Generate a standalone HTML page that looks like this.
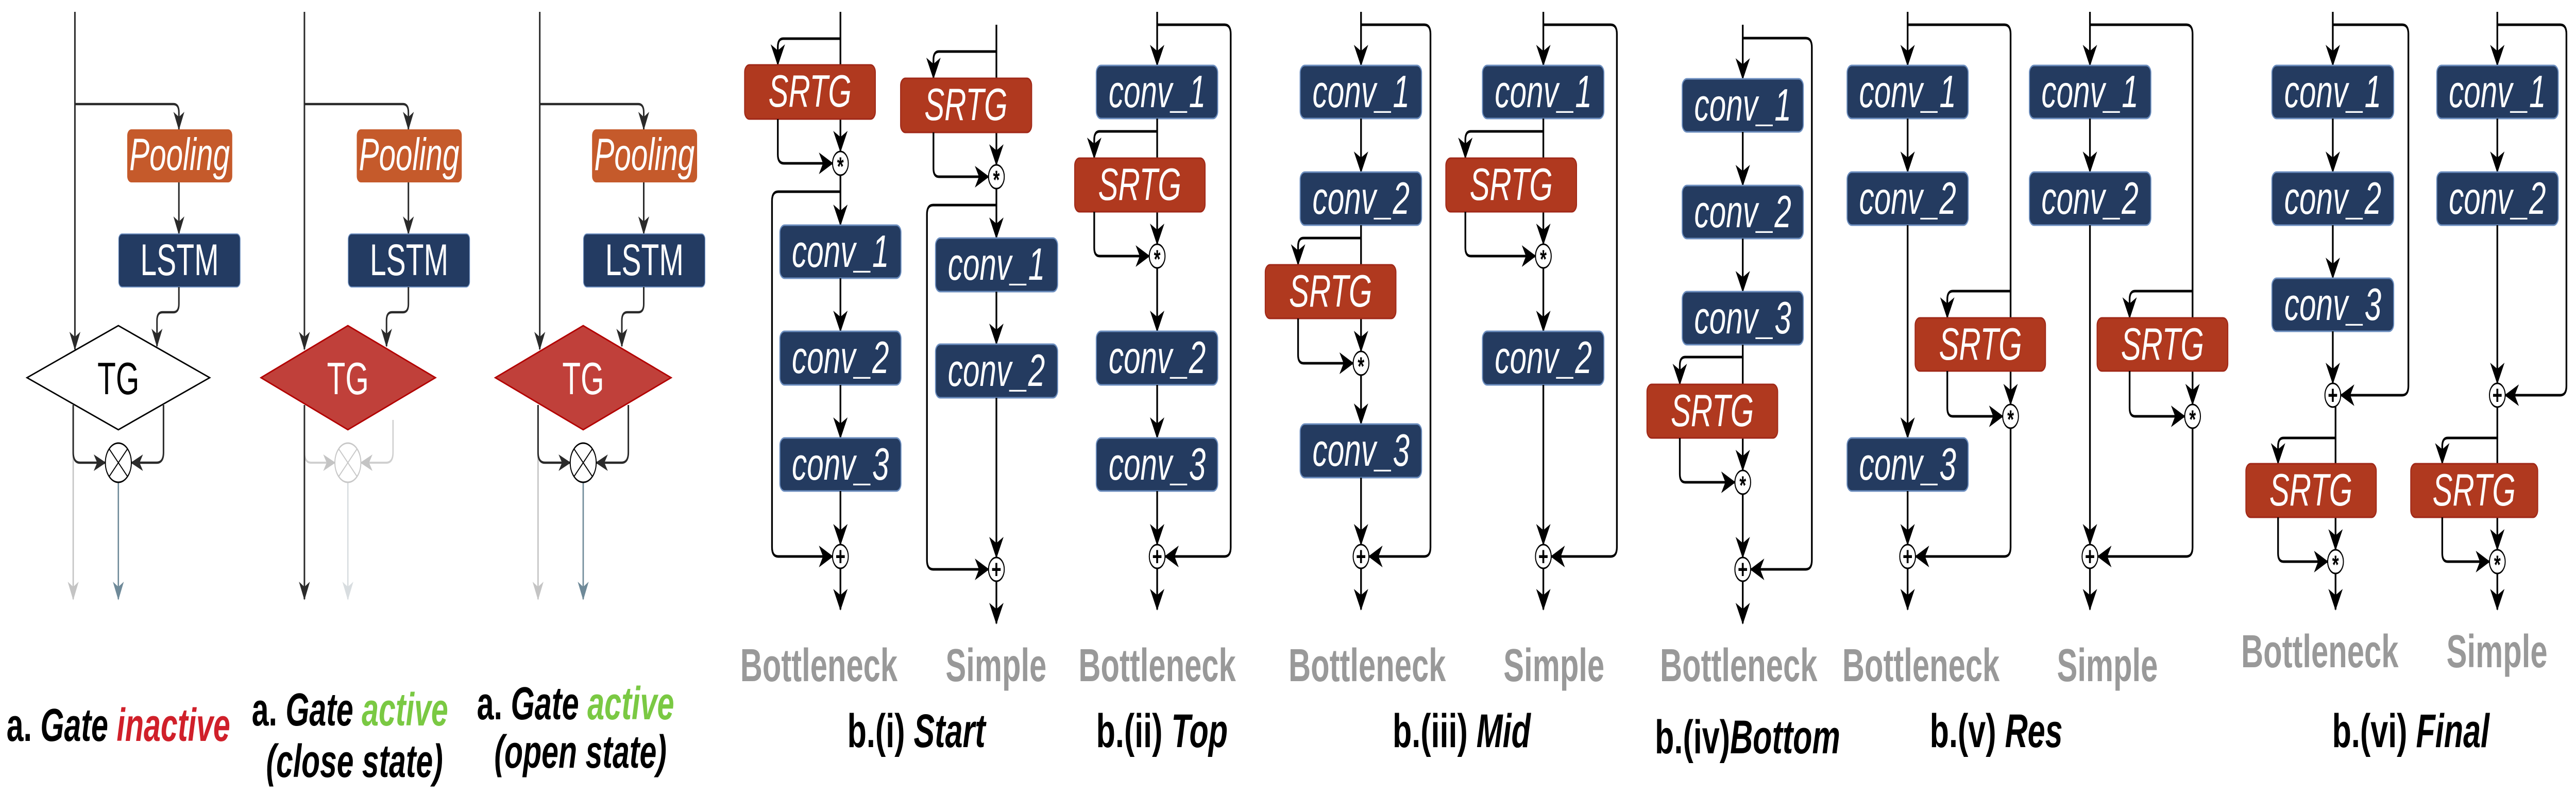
<!DOCTYPE html>
<html><head><meta charset="utf-8"><style>
html,body{margin:0;padding:0;background:#fff;overflow:hidden;width:100%;height:100%;}
svg{display:block;width:100vw;height:100vh;}
.ln{fill:none;stroke:#000;stroke-width:5;marker-end:url(#ar);}
.al{fill:none;stroke:#2a2a2a;stroke-width:4.5;marker-end:url(#ar2);}
.conv{fill:#243B60;stroke:#6C8EBF;stroke-width:3;}
.srtg{fill:#B0391F;stroke:#A02818;stroke-width:3;}
.bt{font-family:"Liberation Sans",sans-serif;font-style:italic;fill:#fff;font-size:88px;text-anchor:middle;}
.sub{font-family:"Liberation Sans",sans-serif;font-weight:bold;fill:#999;font-size:90px;text-anchor:middle;}
.ttl{font-family:"Liberation Sans",sans-serif;font-weight:bold;fill:#000;font-size:92px;text-anchor:middle;}
.al2{font-family:"Liberation Sans",sans-serif;font-weight:bold;font-style:italic;fill:#000;font-size:90px;}
.op{fill:#fff;stroke:#000;stroke-width:3;}
.opt{font-family:"Liberation Sans",sans-serif;font-weight:bold;font-size:50px;text-anchor:middle;fill:#000;}
</style></head><body>
<svg viewBox="0 0 7531 1541" preserveAspectRatio="none" xmlns="http://www.w3.org/2000/svg">
<defs>
<marker id="ar" markerUnits="userSpaceOnUse" markerWidth="46" markerHeight="46" refX="40" refY="22" orient="auto"><path d="M0,1 L42,22 L0,43 L12,22 Z" fill="#000"/></marker>
<marker id="ar2" markerUnits="userSpaceOnUse" markerWidth="42" markerHeight="42" refX="34" refY="18" orient="auto"><path d="M0,2 L36,18 L0,34 L10,18 Z" fill="#2a2a2a"/></marker>
<marker id="arg" markerUnits="userSpaceOnUse" markerWidth="42" markerHeight="42" refX="34" refY="18" orient="auto"><path d="M0,2 L36,18 L0,34 L10,18 Z" fill="#c4c4c4"/></marker>
<marker id="ars" markerUnits="userSpaceOnUse" markerWidth="42" markerHeight="42" refX="34" refY="18" orient="auto"><path d="M0,2 L36,18 L0,34 L10,18 Z" fill="#6f8a99"/></marker>
<marker id="arf" markerUnits="userSpaceOnUse" markerWidth="42" markerHeight="42" refX="34" refY="18" orient="auto"><path d="M0,2 L36,18 L0,34 L10,18 Z" fill="#d8dde0"/></marker>
</defs>
<rect width="7531" height="1541" fill="#fff"/>

<g>
<path class="al" d="M219,23 V678"/>
<path class="al" d="M219,202 H507 Q523,202 523,218 V251"/>
<rect x="372" y="251" width="307" height="103" rx="12" fill="#C55A2B"/>
<text class="bt" x="525" y="330">Pooling</text>
<path class="al" d="M523,354 V454"/>
<rect x="347" y="454" width="355" height="103" rx="10" fill="#233B62" stroke="#6C8EBF" stroke-width="2"/>
<text x="525" y="534" font-family="Liberation Sans, sans-serif" font-size="86" fill="#fff" text-anchor="middle">LSTM</text>
<path class="al" d="M523,557 V590 Q523,606 507,606 H475 Q459,606 459,622 V672"/>
<polygon points="79,733 346,632 613,733 346,834" fill="#fff" stroke="#000" stroke-width="3"/>
<text x="346" y="765" font-family="Liberation Sans, sans-serif" font-size="88" fill="#000" text-anchor="middle">TG</text>
<path d="M214,850 V1163" fill="none" stroke="#c4c4c4" stroke-width="4" marker-end="url(#arg)"/>
<path class="al" d="M214,786 V878 Q214,898 234,898 H308"/>
<path class="al" d="M478,786 V878 Q478,898 458,898 H384"/>
<path d="M346,936 V1163" fill="none" stroke="#6f8a99" stroke-width="4" marker-end="url(#ars)"/>
<circle cx="346" cy="898" r="38" fill="#fff" stroke="#000" stroke-width="3"/>
<path d="M319,871 L373,925 M373,871 L319,925" stroke="#000" stroke-width="2.5"/>
<text class="al2" x="19" y="1438" textLength="654" lengthAdjust="spacingAndGlyphs"><tspan font-style="normal">a.</tspan> Gate <tspan fill="#D0202A">inactive</tspan></text>
</g>

<g>
<path class="al" d="M890,202 H1178 Q1194,202 1194,218 V251"/>
<rect x="1043" y="251" width="307" height="103" rx="12" fill="#C55A2B"/>
<text class="bt" x="1196" y="330">Pooling</text>
<path class="al" d="M1194,354 V454"/>
<rect x="1018" y="454" width="355" height="103" rx="10" fill="#233B62" stroke="#6C8EBF" stroke-width="2"/>
<text x="1196" y="534" font-family="Liberation Sans, sans-serif" font-size="86" fill="#fff" text-anchor="middle">LSTM</text>
<path class="al" d="M1194,557 V590 Q1194,606 1178,606 H1146 Q1130,606 1130,622 V672"/>
<polygon points="763,733 1017,632 1273,733 1017,834" fill="#C0403A" stroke="#B20000" stroke-width="3"/>
<text x="1017" y="765" font-family="Liberation Sans, sans-serif" font-size="88" fill="#fff" text-anchor="middle">TG</text>
<path d="M890,878 Q890,898 910,898 H979" fill="none" stroke="#d0d0d0" stroke-width="4" marker-end="url(#arg)"/>
<path d="M1149,815 V878 Q1149,898 1129,898 H1055" fill="none" stroke="#d0d0d0" stroke-width="4" marker-end="url(#arg)"/>
<path d="M1017,936 V1163" fill="none" stroke="#d8dde0" stroke-width="4" marker-end="url(#arf)"/>
<circle cx="1017" cy="898" r="38" fill="#fff" stroke="#c8c8c8" stroke-width="3"/>
<path d="M990,871 L1044,925 M1044,871 L990,925" stroke="#c8c8c8" stroke-width="2.5"/>
<path class="al" d="M890,23 V678"/>
<path class="al" d="M890,786 V1163"/>
<text class="al2" x="736" y="1408" textLength="574" lengthAdjust="spacingAndGlyphs"><tspan font-style="normal">a.</tspan> Gate <tspan fill="#7AC943">active</tspan></text>
<text class="al2" x="778" y="1508" textLength="517" lengthAdjust="spacingAndGlyphs">(close state)</text>
</g>

<g>
<path class="al" d="M1578,23 V678"/>
<path class="al" d="M1578,202 H1866 Q1882,202 1882,218 V251"/>
<rect x="1731" y="251" width="307" height="103" rx="12" fill="#C55A2B"/>
<text class="bt" x="1884" y="330">Pooling</text>
<path class="al" d="M1882,354 V454"/>
<rect x="1706" y="454" width="355" height="103" rx="10" fill="#233B62" stroke="#6C8EBF" stroke-width="2"/>
<text x="1884" y="534" font-family="Liberation Sans, sans-serif" font-size="86" fill="#fff" text-anchor="middle">LSTM</text>
<path class="al" d="M1882,557 V590 Q1882,606 1866,606 H1834 Q1818,606 1818,622 V672"/>
<polygon points="1448,733 1705,632 1962,733 1705,834" fill="#C0403A" stroke="#B20000" stroke-width="3"/>
<text x="1705" y="765" font-family="Liberation Sans, sans-serif" font-size="88" fill="#fff" text-anchor="middle">TG</text>
<path d="M1573,850 V1163" fill="none" stroke="#c4c4c4" stroke-width="4" marker-end="url(#arg)"/>
<path class="al" d="M1573,786 V878 Q1573,898 1593,898 H1667"/>
<path class="al" d="M1837,786 V878 Q1837,898 1817,898 H1743"/>
<path d="M1705,936 V1163" fill="none" stroke="#6f8a99" stroke-width="4" marker-end="url(#ars)"/>
<circle cx="1705" cy="898" r="38" fill="#fff" stroke="#000" stroke-width="3"/>
<path d="M1678,871 L1732,925 M1732,871 L1678,925" stroke="#000" stroke-width="2.5"/>
<text class="al2" x="1394" y="1396" textLength="577" lengthAdjust="spacingAndGlyphs"><tspan font-style="normal">a.</tspan> Gate <tspan fill="#7AC943">active</tspan></text>
<text class="al2" x="1445" y="1490" textLength="504" lengthAdjust="spacingAndGlyphs">(open state)</text>
</g>

<g>
<path class="ln" d="M2457,23 V294"/>
<path class="ln" d="M2457,75 H2290 Q2274,75 2274,91 V126"/>
<rect class="srtg" x="2177" y="126" width="382" height="105" rx="14"/>
<text class="bt" x="2368" y="207">SRTG</text>
<path class="ln" d="M2274,231 V300 Q2274,317 2292,317 H2434"/>
<path class="ln" d="M2457,340 V437"/>
<path class="ln" d="M2457,372 H2275 Q2257,372 2257,390 V1062 Q2257,1080 2275,1080 H2434"/>
<rect class="conv" x="2280" y="437" width="354" height="103" rx="14"/><text class="bt" x="2457" y="518">conv_1</text>
<path class="ln" d="M2457,540 V643"/>
<rect class="conv" x="2280" y="643" width="354" height="104" rx="14"/><text class="bt" x="2457" y="724">conv_2</text>
<path class="ln" d="M2457,747 V850"/>
<rect class="conv" x="2280" y="850" width="354" height="103" rx="14"/><text class="bt" x="2457" y="931">conv_3</text>
<path class="ln" d="M2457,953 V1057"/>
<path class="ln" d="M2457,1103 V1183"/>
<circle class="op" cx="2457" cy="317" r="23"/><text class="opt" x="2457" y="340">*</text>
<circle class="op" cx="2457" cy="1080" r="23"/><text class="opt" x="2457" y="1097" font-size="44">+</text>
</g>
<g>
<path class="ln" d="M2913,48 V320"/>
<path class="ln" d="M2913,100 H2745 Q2729,100 2729,116 V152"/>
<rect class="srtg" x="2633" y="152" width="383" height="105" rx="14"/>
<text class="bt" x="2824" y="233">SRTG</text>
<path class="ln" d="M2729,257 V327 Q2729,343 2745,343 H2890"/>
<path class="ln" d="M2913,366 V462"/>
<path class="ln" d="M2913,398 H2728 Q2710,398 2710,416 V1087 Q2710,1105 2728,1105 H2890"/>
<rect class="conv" x="2735" y="462" width="357" height="104" rx="14"/><text class="bt" x="2913" y="543">conv_1</text>
<path class="ln" d="M2913,566 V668"/>
<rect class="conv" x="2735" y="668" width="357" height="104" rx="14"/><text class="bt" x="2913" y="749">conv_2</text>
<path class="ln" d="M2913,772 V1082"/>
<path class="ln" d="M2913,1128 V1210"/>
<circle class="op" cx="2913" cy="343" r="23"/><text class="opt" x="2913" y="366">*</text>
<circle class="op" cx="2913" cy="1105" r="23"/><text class="opt" x="2913" y="1122" font-size="44">+</text>
</g>
<text class="sub" x="2394" y="1322">Bottleneck</text>
<text class="sub" x="2912" y="1322">Simple</text>
<text class="ttl" x="2679" y="1450">b.(i) <tspan font-style="italic">Start</tspan></text>

<g>
<path class="ln" d="M3383,23 V127"/>
<path class="ln" d="M3383,48 H3580 Q3598,48 3598,66 V1062 Q3598,1080 3580,1080 H3406"/>
<rect class="conv" x="3205" y="127" width="355" height="103" rx="14"/><text class="bt" x="3383" y="208">conv_1</text>
<path class="ln" d="M3383,230 V474"/>
<path class="ln" d="M3383,255 H3215 Q3199,255 3199,271 V307"/>
<rect class="srtg" x="3142" y="307" width="381" height="104" rx="14"/><text class="bt" x="3332" y="388">SRTG</text>
<path class="ln" d="M3199,411 V481 Q3199,497 3215,497 H3360"/>
<path class="ln" d="M3383,520 V643"/>
<rect class="conv" x="3205" y="643" width="355" height="104" rx="14"/><text class="bt" x="3383" y="724">conv_2</text>
<path class="ln" d="M3383,747 V850"/>
<rect class="conv" x="3205" y="850" width="355" height="103" rx="14"/><text class="bt" x="3383" y="931">conv_3</text>
<path class="ln" d="M3383,953 V1057"/>
<path class="ln" d="M3383,1103 V1183"/>
<circle class="op" cx="3383" cy="497" r="23"/><text class="opt" x="3383" y="520">*</text>
<circle class="op" cx="3383" cy="1080" r="23"/><text class="opt" x="3383" y="1097" font-size="44">+</text>
</g>
<text class="sub" x="3383" y="1322">Bottleneck</text>
<text class="ttl" x="3397" y="1450">b.(ii) <tspan font-style="italic">Top</tspan></text>

<g>
<path class="ln" d="M3979,23 V127"/>
<path class="ln" d="M3979,48 H4164 Q4182,48 4182,66 V1062 Q4182,1080 4164,1080 H4002"/>
<rect class="conv" x="3801" y="127" width="355" height="103" rx="14"/><text class="bt" x="3979" y="208">conv_1</text>
<path class="ln" d="M3979,230 V334"/>
<rect class="conv" x="3801" y="334" width="355" height="103" rx="14"/><text class="bt" x="3979" y="415">conv_2</text>
<path class="ln" d="M3979,437 V682"/>
<path class="ln" d="M3979,462 H3811 Q3795,462 3795,478 V514"/>
<rect class="srtg" x="3699" y="514" width="382" height="104" rx="14"/><text class="bt" x="3890" y="595">SRTG</text>
<path class="ln" d="M3795,618 V689 Q3795,705 3811,705 H3956"/>
<path class="ln" d="M3979,728 V823"/>
<rect class="conv" x="3801" y="823" width="355" height="104" rx="14"/><text class="bt" x="3979" y="904">conv_3</text>
<path class="ln" d="M3979,927 V1057"/>
<path class="ln" d="M3979,1103 V1183"/>
<circle class="op" cx="3979" cy="705" r="23"/><text class="opt" x="3979" y="728">*</text>
<circle class="op" cx="3979" cy="1080" r="23"/><text class="opt" x="3979" y="1097" font-size="44">+</text>
</g>
<g>
<path class="ln" d="M4512,23 V127"/>
<path class="ln" d="M4512,48 H4709 Q4727,48 4727,66 V1062 Q4727,1080 4709,1080 H4535"/>
<rect class="conv" x="4334" y="127" width="355" height="103" rx="14"/><text class="bt" x="4512" y="208">conv_1</text>
<path class="ln" d="M4512,230 V474"/>
<path class="ln" d="M4512,255 H4300 Q4284,255 4284,271 V307"/>
<rect class="srtg" x="4227" y="307" width="382" height="104" rx="14"/><text class="bt" x="4418" y="388">SRTG</text>
<path class="ln" d="M4284,411 V481 Q4284,497 4300,497 H4489"/>
<path class="ln" d="M4512,520 V643"/>
<rect class="conv" x="4334" y="643" width="355" height="104" rx="14"/><text class="bt" x="4512" y="724">conv_2</text>
<path class="ln" d="M4512,747 V1057"/>
<path class="ln" d="M4512,1103 V1183"/>
<circle class="op" cx="4512" cy="497" r="23"/><text class="opt" x="4512" y="520">*</text>
<circle class="op" cx="4512" cy="1080" r="23"/><text class="opt" x="4512" y="1097" font-size="44">+</text>
</g>
<text class="sub" x="3997" y="1322">Bottleneck</text>
<text class="sub" x="4543" y="1322">Simple</text>
<text class="ttl" x="4273" y="1450">b.(iii) <tspan font-style="italic">Mid</tspan></text>

<g>
<path class="ln" d="M5095,48 V153"/>
<path class="ln" d="M5095,74 H5279 Q5297,74 5297,92 V1087 Q5297,1105 5279,1105 H5118"/>
<rect class="conv" x="4918" y="153" width="354" height="103" rx="14"/><text class="bt" x="5095" y="234">conv_1</text>
<path class="ln" d="M5095,256 V360"/>
<rect class="conv" x="4918" y="360" width="354" height="103" rx="14"/><text class="bt" x="5095" y="441">conv_2</text>
<path class="ln" d="M5095,463 V566"/>
<rect class="conv" x="4918" y="566" width="354" height="103" rx="14"/><text class="bt" x="5095" y="647">conv_3</text>
<path class="ln" d="M5095,669 V913"/>
<path class="ln" d="M5095,693 H4927 Q4911,693 4911,709 V746"/>
<rect class="srtg" x="4815" y="746" width="382" height="104" rx="14"/><text class="bt" x="5006" y="827">SRTG</text>
<path class="ln" d="M4911,850 V920 Q4911,936 4927,936 H5072"/>
<path class="ln" d="M5095,959 V1082"/>
<path class="ln" d="M5095,1128 V1210"/>
<circle class="op" cx="5095" cy="936" r="23"/><text class="opt" x="5095" y="959">*</text>
<circle class="op" cx="5095" cy="1105" r="23"/><text class="opt" x="5095" y="1122" font-size="44">+</text>
</g>
<text class="sub" x="5083" y="1322">Bottleneck</text>
<text class="ttl" x="5109" y="1462">b.(iv)<tspan font-style="italic">Bottom</tspan></text>

<g>
<path class="ln" d="M5577,23 V127"/>
<path class="ln" d="M5577,48 H5860 Q5878,48 5878,66 V785"/>
<path class="ln" d="M5878,565 H5709 Q5693,565 5693,581 V617"/>
<rect class="srtg" x="5599" y="617" width="381" height="103" rx="14"/><text class="bt" x="5790" y="698">SRTG</text>
<path class="ln" d="M5693,720 V792 Q5693,808 5709,808 H5855"/>
<path class="ln" d="M5878,831 V1062 Q5878,1080 5860,1080 H5600"/>
<rect class="conv" x="5400" y="127" width="354" height="103" rx="14"/><text class="bt" x="5577" y="208">conv_1</text>
<path class="ln" d="M5577,230 V334"/>
<rect class="conv" x="5400" y="334" width="354" height="103" rx="14"/><text class="bt" x="5577" y="415">conv_2</text>
<path class="ln" d="M5577,437 V850"/>
<rect class="conv" x="5400" y="850" width="354" height="103" rx="14"/><text class="bt" x="5577" y="931">conv_3</text>
<path class="ln" d="M5577,953 V1057"/>
<path class="ln" d="M5577,1103 V1183"/>
<circle class="op" cx="5878" cy="808" r="23"/><text class="opt" x="5878" y="831">*</text>
<circle class="op" cx="5577" cy="1080" r="23"/><text class="opt" x="5577" y="1097" font-size="44">+</text>
</g>
<g>
<path class="ln" d="M6110,23 V127"/>
<path class="ln" d="M6110,48 H6392 Q6410,48 6410,66 V785"/>
<path class="ln" d="M6410,565 H6242 Q6226,565 6226,581 V617"/>
<rect class="srtg" x="6131" y="617" width="382" height="103" rx="14"/><text class="bt" x="6322" y="698">SRTG</text>
<path class="ln" d="M6226,720 V792 Q6226,808 6242,808 H6387"/>
<path class="ln" d="M6410,831 V1062 Q6410,1080 6392,1080 H6133"/>
<rect class="conv" x="5933" y="127" width="355" height="103" rx="14"/><text class="bt" x="6110" y="208">conv_1</text>
<path class="ln" d="M6110,230 V334"/>
<rect class="conv" x="5933" y="334" width="355" height="103" rx="14"/><text class="bt" x="6110" y="415">conv_2</text>
<path class="ln" d="M6110,437 V1057"/>
<path class="ln" d="M6110,1103 V1183"/>
<circle class="op" cx="6410" cy="808" r="23"/><text class="opt" x="6410" y="831">*</text>
<circle class="op" cx="6110" cy="1080" r="23"/><text class="opt" x="6110" y="1097" font-size="44">+</text>
</g>
<text class="sub" x="5616" y="1322">Bottleneck</text>
<text class="sub" x="6161" y="1322">Simple</text>
<text class="ttl" x="5836" y="1450">b.(v) <tspan font-style="italic">Res</tspan></text>

<g>
<path class="ln" d="M6820,23 V127"/>
<path class="ln" d="M6820,48 H7023 Q7041,48 7041,66 V749 Q7041,767 7023,767 H6843"/>
<rect class="conv" x="6642" y="127" width="356" height="103" rx="14"/><text class="bt" x="6820" y="208">conv_1</text>
<path class="ln" d="M6820,230 V334"/>
<rect class="conv" x="6642" y="334" width="356" height="103" rx="14"/><text class="bt" x="6820" y="415">conv_2</text>
<path class="ln" d="M6820,437 V540"/>
<rect class="conv" x="6642" y="540" width="356" height="103" rx="14"/><text class="bt" x="6820" y="621">conv_3</text>
<path class="ln" d="M6820,643 V744"/>
<path class="ln" d="M6828,790 V1067"/>
<path class="ln" d="M6828,850 H6676 Q6660,850 6660,866 V900"/>
<rect class="srtg" x="6566" y="900" width="381" height="104" rx="14"/><text class="bt" x="6756" y="981">SRTG</text>
<path class="ln" d="M6660,1004 V1074 Q6660,1090 6676,1090 H6805"/>
<path class="ln" d="M6828,1113 V1183"/>
<circle class="op" cx="6820" cy="767" r="23"/><text class="opt" x="6820" y="784" font-size="44">+</text>
<circle class="op" cx="6828" cy="1090" r="23"/><text class="opt" x="6828" y="1113">*</text>
</g>
<g>
<path class="ln" d="M7301,23 V127"/>
<path class="ln" d="M7301,48 H7485 Q7503,48 7503,66 V749 Q7503,767 7485,767 H7324"/>
<rect class="conv" x="7124" y="127" width="355" height="103" rx="14"/><text class="bt" x="7301" y="208">conv_1</text>
<path class="ln" d="M7301,230 V334"/>
<rect class="conv" x="7124" y="334" width="355" height="103" rx="14"/><text class="bt" x="7301" y="415">conv_2</text>
<path class="ln" d="M7301,437 V744"/>
<path class="ln" d="M7301,790 V1067"/>
<path class="ln" d="M7301,850 H7156 Q7140,850 7140,866 V900"/>
<rect class="srtg" x="7048" y="900" width="371" height="104" rx="14"/><text class="bt" x="7233" y="981">SRTG</text>
<path class="ln" d="M7140,1004 V1074 Q7140,1090 7156,1090 H7278"/>
<path class="ln" d="M7301,1113 V1183"/>
<circle class="op" cx="7301" cy="767" r="23"/><text class="opt" x="7301" y="784" font-size="44">+</text>
<circle class="op" cx="7301" cy="1090" r="23"/><text class="opt" x="7301" y="1113">*</text>
</g>
<text class="sub" x="6782" y="1295">Bottleneck</text>
<text class="sub" x="7300" y="1295">Simple</text>
<text class="ttl" x="7048" y="1450">b.(vi) <tspan font-style="italic">Final</tspan></text>
</svg>
</body></html>
